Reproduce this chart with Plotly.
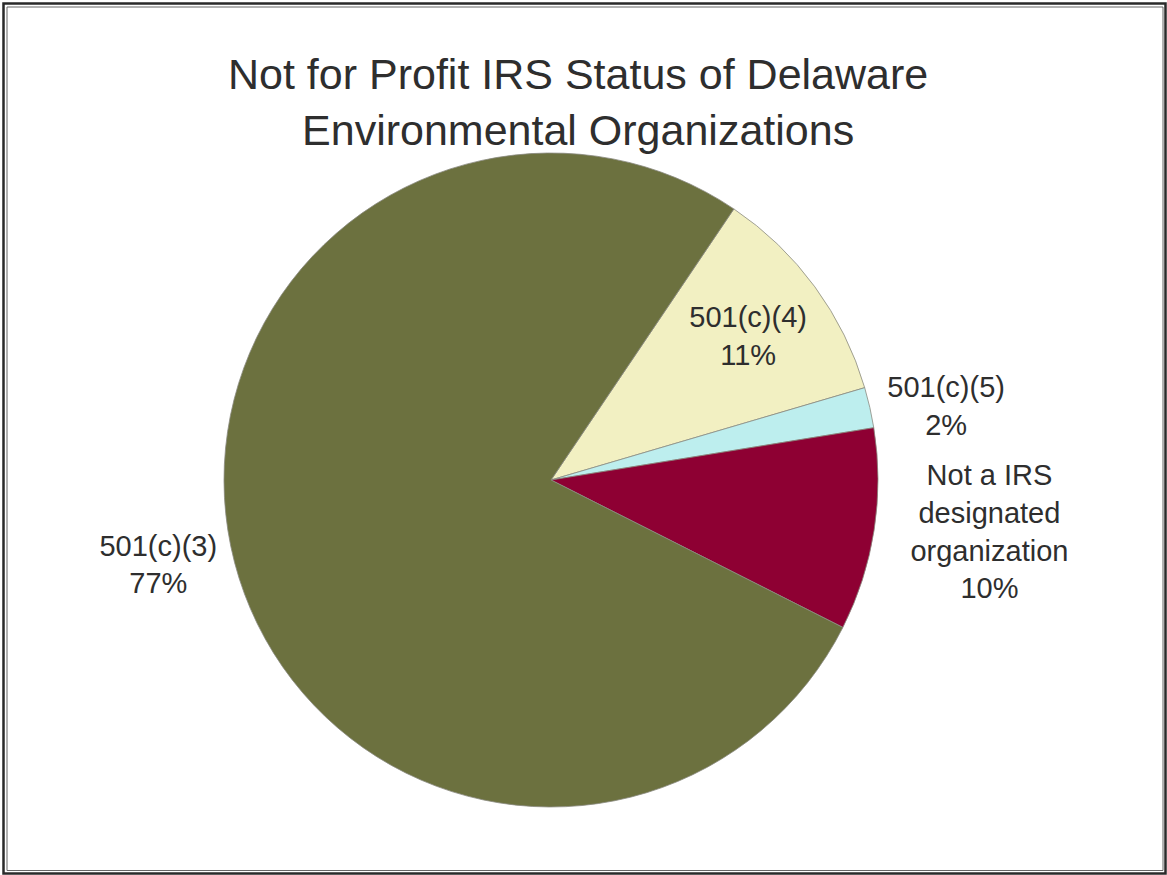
import plotly.graph_objects as go

# IRS status categories (clockwise from the 501(c)(4) wedge)
categories = ["501(c)(4)", "501(c)(5)", "Not a IRS designated organization", "501(c)(3)"]
label_text = ["501(c)(4)", "501(c)(5)", "Not a IRS<br>designated<br>organization", "501(c)(3)"]
shares = [11, 2, 10, 77]
slice_colors = ["#f2f0c2", "#bdeeee", "#8e0033", "#6c713f"]
text_positions = ["inside", "outside", "outside", "outside"]

W, H = 1167, 875

# pie placement in pixels
cx, cy, r = 551, 480, 327

label_font = dict(family="Liberation Sans, Arial, sans-serif", size=29, color="#2e2e2e")

fig = go.Figure()
fig.add_trace(go.Pie(
    labels=categories,
    values=shares,
    text=label_text,
    texttemplate="%{text}<br>%{percent:.0%}",
    textposition=text_positions,
    insidetextorientation="horizontal",
    sort=False,
    direction="clockwise",
    rotation=34,
    marker=dict(colors=slice_colors, line=dict(color="#8a8a80", width=0.8)),
    textfont=label_font,
    insidetextfont=label_font,
    outsidetextfont=label_font,
    domain=dict(x=[(cx - r) / W, (cx + r) / W], y=[(H - cy - r) / H, (H - cy + r) / H]),
    showlegend=False,
    hoverinfo="label+percent",
))

# title
fig.add_annotation(
    text="Not for Profit IRS Status of Delaware<br>Environmental Organizations",
    x=578 / W, y=(H - 102) / H, xref="paper", yref="paper",
    xanchor="center", yanchor="middle", showarrow=False, align="center",
    font=dict(family="Liberation Sans, Arial, sans-serif", size=43, color="#2e2e2e"),
)

# double frame around the chart
fig.add_shape(type="rect", xref="paper", yref="paper",
              x0=3.5 / W, x1=(W - 1.5) / W, y0=1.5 / H, y1=(H - 3.5) / H,
              line=dict(color="#2a2a2a", width=2.5))
fig.add_shape(type="rect", xref="paper", yref="paper",
              x0=7 / W, x1=(W - 4) / W, y0=4.5 / H, y1=(H - 7) / H,
              line=dict(color="#666666", width=1))

fig.update_layout(
    width=W, height=H,
    margin=dict(l=0, r=0, t=0, b=0),
    paper_bgcolor="white",
    plot_bgcolor="white",
)

fig.write_html("out.html")
